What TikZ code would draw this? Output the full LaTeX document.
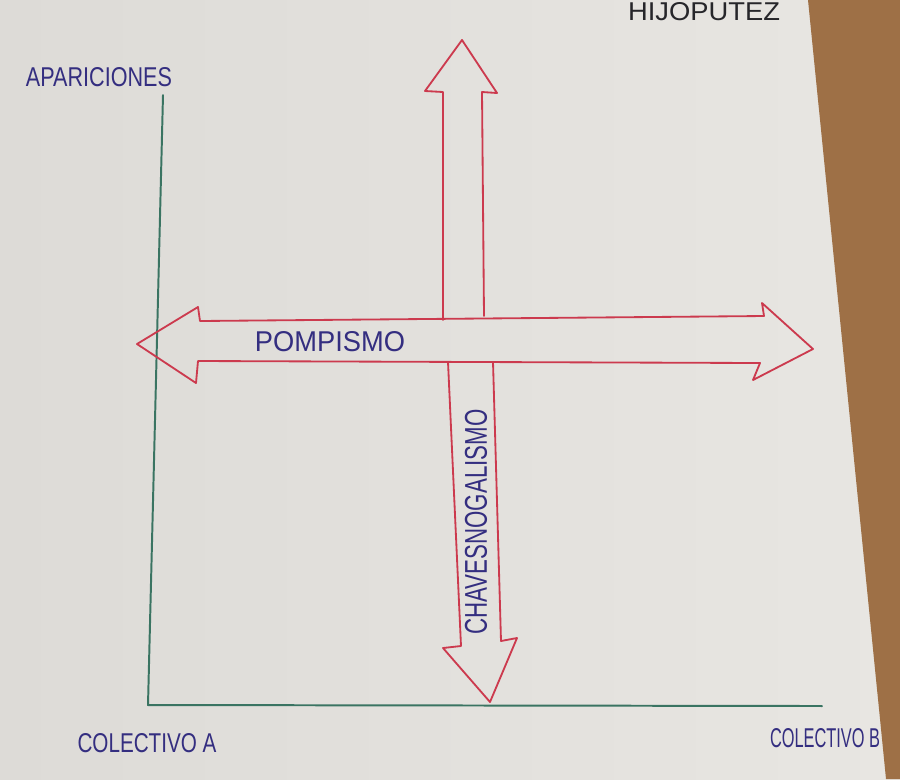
\documentclass[tikz,border=0pt]{standalone}
\usepackage{fontspec}
\setmainfont{Liberation Sans}
\usepackage{graphicx}
\usetikzlibrary{positioning}

\definecolor{paper}{RGB}{221,219,215}
\definecolor{paperlight}{RGB}{232,230,226}
\definecolor{wood}{RGB}{158,112,70}
\definecolor{penblue}{RGB}{52,46,128}
\definecolor{inkred}{RGB}{204,58,78}
\definecolor{axisgreen}{RGB}{58,116,98}
\definecolor{pencil}{RGB}{38,38,42}

\newlength\pxu
\setlength\pxu{0.025cm}
\newcommand\handtext[3]{\resizebox{#1\pxu}{#2\pxu}{#3}}

\begin{document}
\begin{tikzpicture}[
  x=0.025cm, y=-0.025cm,
  axis/.style={draw=axisgreen, line width=1.4pt, line cap=round, line join=round},
  band/.style={draw=inkred, line width=1.3pt, line cap=round, line join=round},
  label/.style={inner sep=0pt, text=penblue}
]
\shade[left color=paper, right color=paperlight] (0,0) rectangle (900,779);
\fill[wood] (808,0) -- (900,0) -- (900,779) -- (886,779) -- cycle;
\useasboundingbox (0,0) rectangle (900,779);

\coordinate (ytop) at (163,95);
\coordinate (origin) at (148,705);
\coordinate (xend) at (822,706);
\draw[axis] (ytop) -- (origin) -- (xend);

% horizontal band
\draw[band] (200,321) -- (764,316) -- (762,303) -- (813,349) -- (753,380)
  -- (760,363) -- (198,361) -- (196,383) -- (137,344) -- (198,307) -- cycle;

% vertical band
\draw[band] (443,320) -- (443,92) -- (425,91) -- (462,40) -- (497,93)
  -- (482,92) -- (484,316);
\draw[band] (448,362) -- (461,646) -- (443,648) -- (490,702) -- (517,638)
  -- (501,641) -- (493,362);

\node[label] (pompismo) at (330,342) {\handtext{150}{20}{POMPISMO}};
\node[label, rotate=90] (chaves) at (476,522) {\handtext{225}{22}{CHAVESNOGALISMO}};
\node[label] (apariciones) at (99,77) {\handtext{146}{19}{APARICIONES}};
\node[label] (colA) at (147,743) {\handtext{139}{19}{COLECTIVO A}};
\node[label] (colB) at (825,738) {\handtext{110}{19}{COLECTIVO B}};
\node[label, text=pencil] (title) at (704,12) {\handtext{152}{18}{HIJOPUTEZ}};
\end{tikzpicture}
\end{document}
